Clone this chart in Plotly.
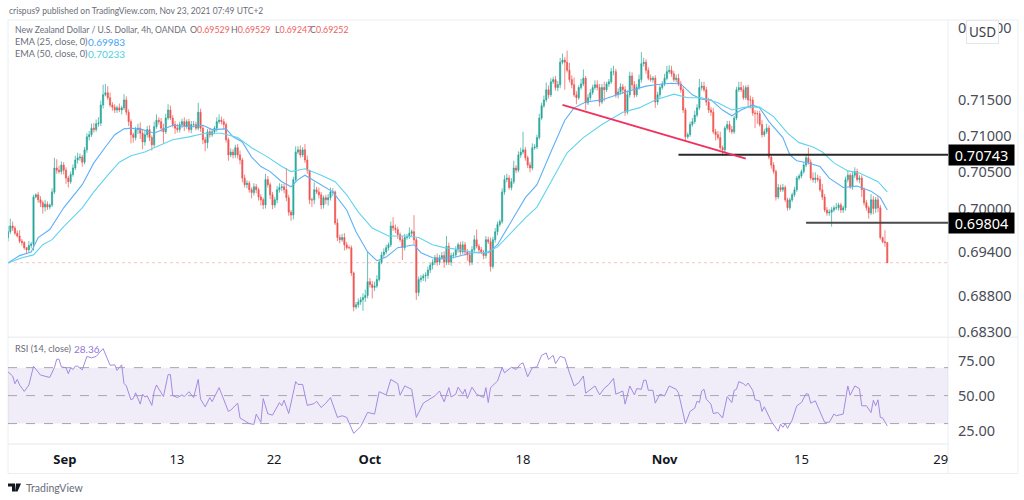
import plotly.graph_objects as go

# ---- data (4h bars, price in 1e-4 units) ----
first_open = 6960
closes = [
6968,6976,6973,6966,6962,6955,6953,6946,6943,6949,6951,7016,7019,7012,7008,7002,7006,7002,7005,7023,
7056,7053,7051,7060,7053,7042,7037,7047,7056,7067,7070,7071,7064,7081,7099,7102,7111,7109,7117,7118,
7143,7157,7160,7153,7143,7140,7136,7139,7136,7139,7150,7133,7120,7102,7098,7109,7111,7104,7092,7102,
7109,7098,7088,7113,7122,7120,7111,7106,7125,7136,7125,7116,7111,7109,7116,7120,7114,7120,7109,7116,
7116,7111,7133,7111,7095,7091,7106,7102,7106,7111,7120,7122,7120,7116,7095,7074,7078,7074,7084,7074,
7067,7042,7033,7035,7026,7022,7030,7026,7016,7012,7005,7040,7033,7019,7005,7012,7026,7029,7030,7026,
7015,6995,6991,7040,7078,7081,7074,7081,7067,7053,7012,7012,7026,7023,7019,7005,7015,7012,7015,7023,
7023,6980,6960,6957,6960,6950,6946,6946,6911,6864,6867,6871,6874,6877,6880,6899,6895,6891,6893,6902,
6926,6936,6940,6946,6950,6976,6973,6971,6964,6957,6946,6960,6961,6966,6968,6957,6884,6902,6904,6907,
6908,6915,6922,6926,6932,6926,6932,6935,6926,6948,6926,6935,6936,6943,6950,6940,6950,6940,6936,6926,
6943,6957,6948,6943,6940,6935,6957,6954,6920,6957,6968,6978,6982,7023,7040,7042,7029,7037,7056,7053,
7074,7078,7081,7070,7060,7056,7084,7085,7098,7125,7142,7150,7164,7157,7175,7178,7167,7171,7202,7205,
7202,7191,7178,7171,7157,7153,7167,7172,7180,7146,7153,7160,7167,7171,7167,7147,7167,7164,7172,7175,
7189,7189,7157,7161,7168,7164,7133,7157,7183,7171,7157,7167,7178,7200,7202,7191,7180,7178,7180,7147,
7157,7167,7172,7180,7189,7191,7186,7178,7180,7172,7164,7136,7099,7102,7116,7120,7129,7139,7167,7169,
7164,7147,7136,7133,7106,7102,7098,7084,7081,7111,7116,7109,7106,7125,7164,7167,7164,7153,7167,7150,
7150,7132,7131,7131,7116,7102,7106,7111,7071,7060,7051,7016,7029,7026,7029,7012,7001,7012,7019,7026,
7042,7045,7051,7060,7070,7064,7042,7040,7042,7040,7026,7016,6998,6994,6995,6998,7001,7001,7005,6998,
7001,7040,7046,7030,7046,7051,7040,7042,7026,7008,7001,6994,7012,7000,7012,7001,6960,6954,6953,6925,
]
upper_wick = [
8,10,6,3,4,8,3,2,1,6,3,3,2,4,5,3,6,4,2,5,
14,12,6,5,4,4,3,4,5,6,7,5,3,4,5,5,6,7,6,8,
6,14,12,9,7,4,4,3,6,3,8,5,4,3,3,4,6,8,5,6,
5,6,3,7,8,4,5,6,6,8,6,4,5,6,4,4,6,3,4,5,
5,4,13,5,3,4,4,5,3,3,6,8,5,4,3,3,5,4,4,5,
6,3,5,4,3,3,5,4,3,4,3,8,5,3,4,4,5,6,4,4,
30,4,3,4,8,5,6,4,8,6,0,3,10,4,6,4,3,4,5,6,
5,2,6,4,5,6,4,3,3,2,4,5,4,6,8,42,5,5,6,6,
3,4,5,4,3,6,12,5,4,3,5,5,4,8,3,23,3,4,4,3,
4,5,3,4,4,6,4,5,6,14,5,4,4,5,3,4,5,4,4,4,
5,6,14,3,4,3,5,4,6,4,5,4,3,5,6,6,4,5,10,4,
5,6,25,4,3,4,6,4,4,6,4,6,10,6,5,4,5,5,6,9,
4,16,10,6,10,5,3,7,12,3,5,5,4,6,6,5,5,8,3,4,
5,8,4,5,5,4,5,6,6,5,5,5,7,16,6,4,4,5,3,4,
4,3,4,6,8,7,6,4,5,6,4,4,3,3,4,5,6,5,12,6,
6,4,6,4,6,4,5,8,3,3,5,5,5,3,4,8,8,6,3,4,
6,4,4,4,4,6,4,6,4,3,4,3,5,4,5,3,3,3,3,4,
3,3,3,4,4,14,4,8,8,5,5,8,4,4,4,4,3,7,3,3,
3,4,6,3,5,6,4,4,4,3,4,3,8,5,4,5,4,1,16,0,
]
lower_wick = [
5,3,4,3,2,3,4,3,6,3,4,9,2,4,6,9,6,4,3,3,
3,5,3,4,6,8,8,3,3,3,5,4,6,3,4,5,3,4,3,4,
4,5,2,3,3,5,4,4,3,6,3,4,6,12,7,4,6,8,10,5,
4,5,8,3,3,4,5,16,3,3,3,4,8,4,4,5,7,4,4,5,
4,3,3,5,6,12,8,4,3,3,5,3,4,6,4,8,3,5,4,5,
6,6,4,5,4,8,4,5,5,8,6,5,4,6,6,4,5,4,5,5,
5,5,8,6,3,3,4,3,4,5,6,10,6,3,5,6,5,6,8,4,
6,3,5,5,3,8,3,2,4,6,3,4,4,15,6,4,4,15,5,3,
3,3,4,3,4,3,4,5,6,3,17,4,3,3,4,6,10,5,4,4,
8,5,4,6,4,5,4,3,8,4,4,5,4,3,4,4,3,5,8,5,
4,3,3,5,3,5,4,3,7,3,4,5,3,3,4,4,3,4,3,4,
3,4,3,4,4,6,3,3,3,3,3,3,3,5,3,3,4,5,5,3,
38,3,4,5,3,9,3,3,3,10,3,4,3,3,4,6,3,16,3,4,
3,5,4,5,4,6,5,3,4,6,4,3,3,4,4,5,3,3,4,8,
4,4,3,3,3,3,4,3,4,3,4,4,6,3,3,3,3,3,3,4,
3,5,4,5,3,8,3,3,8,3,3,4,3,3,3,3,3,3,3,10,
12,4,20,14,3,4,3,3,3,5,3,5,3,3,3,3,4,3,3,3,
3,3,3,3,3,3,3,4,5,3,3,4,3,4,4,20,3,3,4,4,
4,4,4,3,4,4,3,5,10,4,4,8,3,8,6,6,3,2,6,0,
]

ema25_bar = [0,5,10,13,18,24,32,37,42,46,50,53,58,63,68,71,78,84,88,94,97,101,105,109,113,118,122,125,128,134,140,146,150,155,159,163,168,175,178,183,188,193,200,207,211,223,228,234,240,244,249,256,265,275,279,286,290,295,299,303,308,312,316,321,324,328,334,337,340,345,350,354,360,366,372,376,379]
ema25_val = [6925,6935,6940,6960,6971,7001,7033,7063,7085,7102,7110,7111,7109,7104,7111,7115,7113,7115,7109,7110,7099,7092,7071,7058,7051,7037,7030,7040,7046,7035,7023,6998,6968,6940,6928,6933,6946,6950,6939,6932,6931,6933,6939,6939,6950,7015,7033,7078,7122,7139,7147,7150,7160,7169,7171,7173,7172,7157,7151,7150,7136,7128,7136,7143,7139,7120,7098,7074,7066,7063,7058,7042,7029,7031,7024,7015,6998]
ema50_bar = [0,6,11,15,19,24,32,37,43,48,53,59,63,71,78,85,92,99,105,112,118,122,128,135,141,146,151,157,164,171,177,183,188,193,200,206,211,223,228,234,241,248,256,265,272,279,287,293,299,306,312,318,324,330,336,341,347,351,356,362,367,375,379]
ema50_val = [6925,6932,6936,6950,6957,6975,7001,7023,7046,7064,7073,7078,7084,7095,7099,7104,7104,7098,7084,7071,7058,7051,7055,7046,7037,7019,6995,6973,6962,6962,6960,6950,6946,6944,6940,6939,6947,6987,7002,7037,7077,7098,7116,7133,7139,7150,7158,7153,7153,7146,7136,7140,7140,7127,7104,7091,7085,7078,7063,7052,7049,7037,7023]

rsi_bar = [0,2,3,4,5,7,9,11,14,18,20,21,22,23,25,26,27,28,29,30,32,34,36,38,41,44,46,47,49,50,51,53,54,55,57,58,59,60,62,63,64,67,69,70,71,73,75,76,78,80,82,83,85,87,88,91,92,95,96,99,100,104,106,107,109,110,112,114,117,118,119,121,124,125,127,129,132,133,135,137,139,141,142,144,146,149,152,155,158,160,163,165,168,169,171,174,176,179,184,186,188,190,191,193,194,196,197,198,200,202,205,206,207,208,211,213,214,217,219,221,222,224,226,228,230,232,233,235,236,238,240,242,244,246,248,249,253,255,257,259,261,262,265,266,268,270,271,273,274,275,276,278,279,281,283,285,288,289,292,294,296,297,298,299,300,301,303,304,306,308,310,312,313,314,315,317,318,319,321,322,324,325,326,329,332,333,334,335,336,338,340,342,344,345,346,348,350,352,354,356,357,360,362,363,365,367,368,370,372,373,374,375,376,377,379]
rsi_val = [67,64,58.5,61.6,57.6,53,57.6,71,64.7,63,70,76,76,70.5,70,65.6,70,68.7,71,71,68.4,78,77,78,83.6,71.7,72,68,72,58.7,56.9,47,47.9,52,43.9,51,49,49.8,43,53,57.6,49.3,65,65,50,48.6,50.5,49.3,52.8,48.6,61.6,47.4,42,48.6,45.7,55.7,51.4,38.7,39.6,44.6,34,30,29.4,36.8,30.9,47.9,37,36,45,42.7,46.7,37.2,60,58,58,43,44.3,46,41.5,44.6,48.6,38,34.4,35.6,34.4,23,27.8,38,36.8,52.8,50.5,61.6,58.5,50.2,56.9,54.5,34.4,44.6,49.8,53.3,45.5,55.7,49,51,56,51,54.5,48,56,51,48.6,55.7,45,55.7,60.4,70,66.3,70.3,68.7,72.7,73.4,63.5,69.9,70.6,78.8,80.5,75.8,78.8,72.9,78,77,66.3,56.9,59.2,64,51.7,56.9,50.5,55.2,58,62.3,51,53.3,43.9,56.9,50.5,55,54.5,61,61,53.8,53.8,44.6,51,49.8,56.9,54.5,52,30,38.7,41,46,45,53.3,54.5,47.4,43.9,37.2,37.9,34,49.3,45,53.8,54.5,60,58.5,56.9,59,53.8,47,46.2,38.7,42,31.6,24.5,29.7,27.3,30,26.6,32.5,42.7,45,51.4,51,44.6,46.2,37.9,30.9,30.9,36.8,35.6,36.8,56.9,50.2,56.9,55,42.7,42.7,37.9,46.7,42.7,47,34.4,34,28.36]

x_tick_bars = [24.5,72.8,114.7,156,222,283,342,402]
x_tick_text = ["<b>Sep</b>","13","22","<b>Oct</b>","18","<b>Nov</b>","15","29"]
price_ticks = [0.725,0.715,0.71,0.705,0.70,0.694,0.688,0.683]
rsi_ticks = [25,50,75]
level_hi = 0.70743
level_lo = 0.69804
last_price = 0.69252
trend_bars = [239,318]
trend_prices = [0.7143,0.7069]
level_hi_start = 289
level_lo_start = 344

# ---- derived OHLC ----
bars = list(range(len(closes)))
opens = [first_open] + closes[:-1]
highs = [max(o, c) + u for o, c, u in zip(opens, closes, upper_wick)]
lows = [min(o, c) - l for o, c, l in zip(opens, closes, lower_wick)]
p = lambda seq: [v / 1e4 for v in seq]

W, H = 1024, 500
px = lambda x: x / W
py = lambda y: 1 - ((y - 3) / 0.987) / H   # page photo compresses the height slightly
UP, DOWN = "#26a69a", "#ef5350"
FONT = "Noto Sans"
SMALL = "Lato"
GREY = "#6a6d78"

fig = go.Figure()
fig.add_trace(go.Candlestick(
    x=bars, open=p(opens), high=p(highs), low=p(lows), close=p(closes),
    increasing=dict(line=dict(color=UP, width=0.7), fillcolor=UP),
    decreasing=dict(line=dict(color=DOWN, width=0.7), fillcolor=DOWN),
    whiskerwidth=0, showlegend=False, hoverinfo="skip", yaxis="y"))
fig.add_trace(go.Scatter(x=ema25_bar, y=p(ema25_val), mode="lines",
                         line=dict(color="#5fb0f5", width=1.1), yaxis="y", showlegend=False, hoverinfo="skip"))
fig.add_trace(go.Scatter(x=ema50_bar, y=p(ema50_val), mode="lines",
                         line=dict(color="#62d3ec", width=1.1), yaxis="y", showlegend=False, hoverinfo="skip"))
fig.add_trace(go.Scatter(x=rsi_bar, y=rsi_val, mode="lines",
                         line=dict(color="#a48ae0", width=1), yaxis="y2", showlegend=False, hoverinfo="skip"))

x_end = (948 - 8) / 2.32
shapes = [
    dict(type="rect", xref="paper", yref="paper", x0=px(8), x1=px(1018), y0=py(474), y1=py(20),
         line=dict(color="#eceef2", width=1), layer="below"),
    dict(type="line", xref="paper", yref="paper", x0=px(8), x1=px(1018), y0=py(337.5), y1=py(337.5),
         line=dict(color="#e6e8ec", width=1), layer="below"),
    dict(type="line", xref="paper", yref="paper", x0=px(8), x1=px(948), y0=py(444.5), y1=py(444.5),
         line=dict(color="#e6e8ec", width=1), layer="below"),
    dict(type="line", xref="paper", yref="paper", x0=px(948), x1=px(948), y0=py(474), y1=py(20),
         line=dict(color="#eceef2", width=1), layer="below"),
    dict(type="rect", xref="x", yref="y2", x0=0, x1=x_end, y0=30, y1=70,
         fillcolor="rgba(126,87,194,0.11)", line=dict(width=0), layer="below"),
    dict(type="line", xref="x", yref="y", x0=0, x1=x_end, y0=last_price, y1=last_price,
         line=dict(color="rgba(239,83,80,0.35)", width=1, dash="dot"), layer="below"),
    dict(type="line", xref="x", yref="y", x0=level_hi_start, x1=x_end, y0=level_hi, y1=level_hi,
         line=dict(color="#2a2a2a", width=2)),
    dict(type="line", xref="x", yref="y", x0=level_lo_start, x1=x_end, y0=level_lo, y1=level_lo,
         line=dict(color="#4a4a4a", width=2)),
    dict(type="line", xref="x", yref="y", x0=trend_bars[0], x1=trend_bars[1], y0=trend_prices[0], y1=trend_prices[1],
         line=dict(color="#f0305f", width=1.8)),
    dict(type="path", xref="paper", yref="paper", fillcolor="#131722", line=dict(width=0),
         path=f"M {px(8)} {py(484)} L {px(15)} {py(484)} L {px(15)} {py(492)} L {px(12)} {py(492)} L {px(12)} {py(487)} L {px(8)} {py(487)} Z"),
    dict(type="path", xref="paper", yref="paper", fillcolor="#131722", line=dict(width=0),
         path=f"M {px(16)} {py(484)} L {px(21)} {py(484)} L {px(17.5)} {py(492)} L {px(15)} {py(492)} Z"),
]
for lv in (70, 50, 30):
    shapes.append(dict(type="line", xref="x", yref="y2", x0=0, x1=x_end, y0=lv, y1=lv,
                       line=dict(color="#a8a4b4", width=1, dash="dash"), layer="below"))

def txt(text, x, y, size=9.2, color=GREY):
    return dict(text=text, xref="paper", yref="paper", x=px(x), y=py(y), showarrow=False,
                xanchor="left", yanchor="middle", align="left",
                font=dict(family=SMALL, size=size, color=color))

red = "#f0605d"
annotations = [
    txt("crispus9 published on TradingView.com, Nov 23, 2021 07:49 UTC+2", 7, 11, 8.5),
    txt("New Zealand Dollar / U.S. Dollar, 4h, OANDA", 13, 30, 8.6),
    txt(f"O<span style='color:{red}'>0.69529</span>", 188, 30, 8.8),
    txt(f"H<span style='color:{red}'>0.69529</span>", 229, 30, 8.8),
    txt(f"L<span style='color:{red}'>0.69247</span>", 273, 30, 8.8),
    txt(f"C<span style='color:{red}'>0.69252</span>", 308, 30, 8.8),
    txt("EMA (25, close, 0)", 13, 42),
    txt("<span style='color:#42a5f5'>0.69983</span>", 86, 42, 10),
    txt("EMA (50, close, 0)", 13, 54),
    txt("<span style='color:#4dd0e1'>0.70233</span>", 86, 54, 10),
    txt("RSI (14, close)", 13, 349),
    txt("<span style='color:#9575d8'>28.36</span>", 72, 349, 10),
    txt("TradingView", 24, 488, 10.5),
    dict(text="USD", xref="paper", yref="paper", x=px(982), y=py(32), showarrow=False,
         xanchor="center", yanchor="middle",
         font=dict(family=FONT, size=13.5, color="#3a3d48"), bgcolor="white",
         bordercolor="#e4e6ea", borderwidth=1, borderpad=2),
]
for lvl in (level_hi, level_lo):
    annotations.append(dict(text=f"{lvl:.5f}", xref="paper", yref="y", x=px(948), y=lvl,
                            xanchor="left", yanchor="middle", showarrow=False, align="center",
                            font=dict(family=FONT, size=14.5, color="white"),
                            bgcolor="black", borderpad=1, width=63, height=18))

fig.update_layout(
    width=W, height=H, margin=dict(l=0, r=0, t=0, b=0),
    paper_bgcolor="white", plot_bgcolor="white",
    font=dict(family=FONT, color="#3a3d48"),
    xaxis=dict(domain=[px(8), px(948)], range=[0, x_end], anchor="y2", showgrid=False, zeroline=False,
               tickmode="array", tickvals=x_tick_bars, ticktext=x_tick_text, ticks="", showline=False,
               ticklabelstandoff=6, tickfont=dict(size=13, color="#131722"), rangeslider=dict(visible=False)),
    yaxis=dict(domain=[py(337), py(20)], range=[0.715 - 237 / 7250, 0.715 + 80 / 7250], side="right", anchor="x",
               showgrid=False, zeroline=False, tickmode="array", tickvals=price_ticks, tickformat=".5f",
               ticks="", ticklabelstandoff=9, tickfont=dict(size=14.5, color="#4a4d58")),
    yaxis2=dict(domain=[py(444), py(338)], range=[50 - 48 / 1.4, 50 + 58 / 1.4], side="right", anchor="x",
                showgrid=False, zeroline=False, tickmode="array", tickvals=rsi_ticks, tickformat=".2f",
                ticks="", ticklabelstandoff=9, tickfont=dict(size=14.5, color="#4a4d58")),
    shapes=shapes, annotations=annotations,
)
fig.write_html("out.html", post_script="document.body.style.margin='0';", config=dict(displayModeBar=False))
